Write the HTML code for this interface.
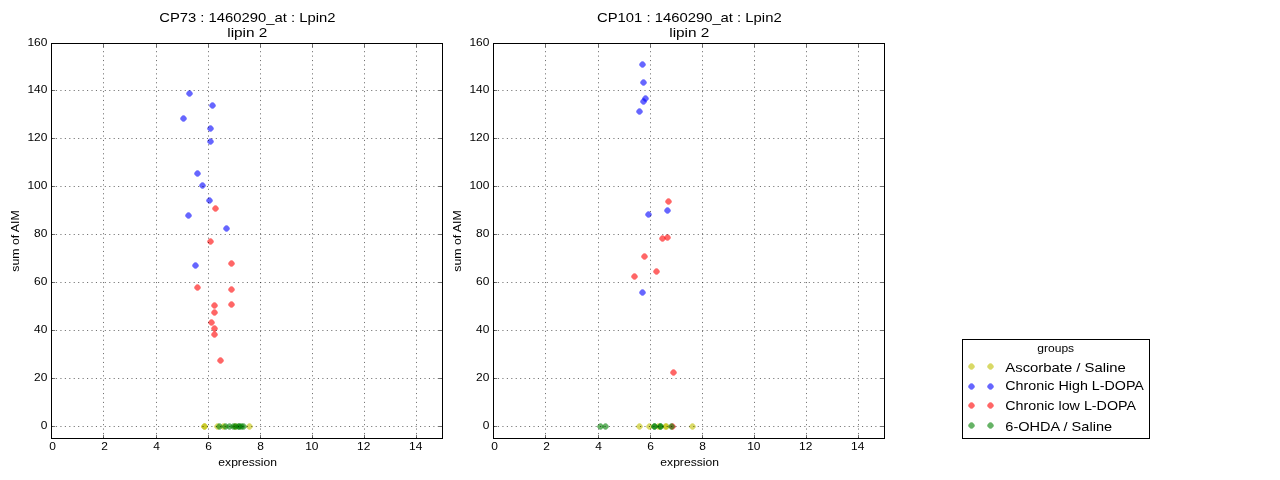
<!DOCTYPE html>
<html lang="en">
<head>
<meta charset="utf-8">
<title>CP73 / CP101 : 1460290_at : Lpin2</title>
<style>
html,body{margin:0;padding:0;background:#fff;}
body{width:1280px;height:480px;overflow:hidden;font-family:"Liberation Sans",sans-serif;}
svg{display:block;will-change:transform;}
svg text{font-family:"Liberation Sans",sans-serif;fill:#000;}
</style>
</head>
<body>
<svg width="1280" height="480" viewBox="0 0 1280 480">
<rect x="0" y="0" width="1280" height="480" fill="#fff"/>
<g>
<g fill="#bfbf00" fill-opacity="0.6"><path transform="translate(204.5 426.5)" d="M3.35 0Q3.25 1.3 2.1 2.1Q1.3 3.25 0 3.35Q-1.3 3.25 -2.1 2.1Q-3.25 1.3 -3.35 0Q-3.25 -1.3 -2.1 -2.1Q-1.3 -3.25 0 -3.35Q1.3 -3.25 2.1 -2.1Q3.25 -1.3 3.35 0Z"/><path transform="translate(204.5 426.5)" d="M3.35 0Q3.25 1.3 2.1 2.1Q1.3 3.25 0 3.35Q-1.3 3.25 -2.1 2.1Q-3.25 1.3 -3.35 0Q-3.25 -1.3 -2.1 -2.1Q-1.3 -3.25 0 -3.35Q1.3 -3.25 2.1 -2.1Q3.25 -1.3 3.35 0Z"/><path transform="translate(217.5 426.5)" d="M3.35 0Q3.25 1.3 2.1 2.1Q1.3 3.25 0 3.35Q-1.3 3.25 -2.1 2.1Q-3.25 1.3 -3.35 0Q-3.25 -1.3 -2.1 -2.1Q-1.3 -3.25 0 -3.35Q1.3 -3.25 2.1 -2.1Q3.25 -1.3 3.35 0Z"/><path transform="translate(223.5 426.5)" d="M3.35 0Q3.25 1.3 2.1 2.1Q1.3 3.25 0 3.35Q-1.3 3.25 -2.1 2.1Q-3.25 1.3 -3.35 0Q-3.25 -1.3 -2.1 -2.1Q-1.3 -3.25 0 -3.35Q1.3 -3.25 2.1 -2.1Q3.25 -1.3 3.35 0Z"/><path transform="translate(235.5 426.5)" d="M3.35 0Q3.25 1.3 2.1 2.1Q1.3 3.25 0 3.35Q-1.3 3.25 -2.1 2.1Q-3.25 1.3 -3.35 0Q-3.25 -1.3 -2.1 -2.1Q-1.3 -3.25 0 -3.35Q1.3 -3.25 2.1 -2.1Q3.25 -1.3 3.35 0Z"/><path transform="translate(249.5 426.5)" d="M3.35 0Q3.25 1.3 2.1 2.1Q1.3 3.25 0 3.35Q-1.3 3.25 -2.1 2.1Q-3.25 1.3 -3.35 0Q-3.25 -1.3 -2.1 -2.1Q-1.3 -3.25 0 -3.35Q1.3 -3.25 2.1 -2.1Q3.25 -1.3 3.35 0Z"/></g>
<g fill="#0000ff" fill-opacity="0.6"><path transform="translate(189.5 93.5)" d="M3.35 0Q3.25 1.3 2.1 2.1Q1.3 3.25 0 3.35Q-1.3 3.25 -2.1 2.1Q-3.25 1.3 -3.35 0Q-3.25 -1.3 -2.1 -2.1Q-1.3 -3.25 0 -3.35Q1.3 -3.25 2.1 -2.1Q3.25 -1.3 3.35 0Z"/><path transform="translate(212.5 105.5)" d="M3.35 0Q3.25 1.3 2.1 2.1Q1.3 3.25 0 3.35Q-1.3 3.25 -2.1 2.1Q-3.25 1.3 -3.35 0Q-3.25 -1.3 -2.1 -2.1Q-1.3 -3.25 0 -3.35Q1.3 -3.25 2.1 -2.1Q3.25 -1.3 3.35 0Z"/><path transform="translate(183.5 118.5)" d="M3.35 0Q3.25 1.3 2.1 2.1Q1.3 3.25 0 3.35Q-1.3 3.25 -2.1 2.1Q-3.25 1.3 -3.35 0Q-3.25 -1.3 -2.1 -2.1Q-1.3 -3.25 0 -3.35Q1.3 -3.25 2.1 -2.1Q3.25 -1.3 3.35 0Z"/><path transform="translate(210.5 128.5)" d="M3.35 0Q3.25 1.3 2.1 2.1Q1.3 3.25 0 3.35Q-1.3 3.25 -2.1 2.1Q-3.25 1.3 -3.35 0Q-3.25 -1.3 -2.1 -2.1Q-1.3 -3.25 0 -3.35Q1.3 -3.25 2.1 -2.1Q3.25 -1.3 3.35 0Z"/><path transform="translate(210.5 141.5)" d="M3.35 0Q3.25 1.3 2.1 2.1Q1.3 3.25 0 3.35Q-1.3 3.25 -2.1 2.1Q-3.25 1.3 -3.35 0Q-3.25 -1.3 -2.1 -2.1Q-1.3 -3.25 0 -3.35Q1.3 -3.25 2.1 -2.1Q3.25 -1.3 3.35 0Z"/><path transform="translate(197.5 173.5)" d="M3.35 0Q3.25 1.3 2.1 2.1Q1.3 3.25 0 3.35Q-1.3 3.25 -2.1 2.1Q-3.25 1.3 -3.35 0Q-3.25 -1.3 -2.1 -2.1Q-1.3 -3.25 0 -3.35Q1.3 -3.25 2.1 -2.1Q3.25 -1.3 3.35 0Z"/><path transform="translate(202.5 185.5)" d="M3.35 0Q3.25 1.3 2.1 2.1Q1.3 3.25 0 3.35Q-1.3 3.25 -2.1 2.1Q-3.25 1.3 -3.35 0Q-3.25 -1.3 -2.1 -2.1Q-1.3 -3.25 0 -3.35Q1.3 -3.25 2.1 -2.1Q3.25 -1.3 3.35 0Z"/><path transform="translate(209.5 200.5)" d="M3.35 0Q3.25 1.3 2.1 2.1Q1.3 3.25 0 3.35Q-1.3 3.25 -2.1 2.1Q-3.25 1.3 -3.35 0Q-3.25 -1.3 -2.1 -2.1Q-1.3 -3.25 0 -3.35Q1.3 -3.25 2.1 -2.1Q3.25 -1.3 3.35 0Z"/><path transform="translate(188.5 215.5)" d="M3.35 0Q3.25 1.3 2.1 2.1Q1.3 3.25 0 3.35Q-1.3 3.25 -2.1 2.1Q-3.25 1.3 -3.35 0Q-3.25 -1.3 -2.1 -2.1Q-1.3 -3.25 0 -3.35Q1.3 -3.25 2.1 -2.1Q3.25 -1.3 3.35 0Z"/><path transform="translate(226.5 228.5)" d="M3.35 0Q3.25 1.3 2.1 2.1Q1.3 3.25 0 3.35Q-1.3 3.25 -2.1 2.1Q-3.25 1.3 -3.35 0Q-3.25 -1.3 -2.1 -2.1Q-1.3 -3.25 0 -3.35Q1.3 -3.25 2.1 -2.1Q3.25 -1.3 3.35 0Z"/><path transform="translate(195.5 265.5)" d="M3.35 0Q3.25 1.3 2.1 2.1Q1.3 3.25 0 3.35Q-1.3 3.25 -2.1 2.1Q-3.25 1.3 -3.35 0Q-3.25 -1.3 -2.1 -2.1Q-1.3 -3.25 0 -3.35Q1.3 -3.25 2.1 -2.1Q3.25 -1.3 3.35 0Z"/></g>
<g fill="#ff0000" fill-opacity="0.6"><path transform="translate(215.5 208.5)" d="M3.35 0Q3.25 1.3 2.1 2.1Q1.3 3.25 0 3.35Q-1.3 3.25 -2.1 2.1Q-3.25 1.3 -3.35 0Q-3.25 -1.3 -2.1 -2.1Q-1.3 -3.25 0 -3.35Q1.3 -3.25 2.1 -2.1Q3.25 -1.3 3.35 0Z"/><path transform="translate(210.5 241.5)" d="M3.35 0Q3.25 1.3 2.1 2.1Q1.3 3.25 0 3.35Q-1.3 3.25 -2.1 2.1Q-3.25 1.3 -3.35 0Q-3.25 -1.3 -2.1 -2.1Q-1.3 -3.25 0 -3.35Q1.3 -3.25 2.1 -2.1Q3.25 -1.3 3.35 0Z"/><path transform="translate(231.5 263.5)" d="M3.35 0Q3.25 1.3 2.1 2.1Q1.3 3.25 0 3.35Q-1.3 3.25 -2.1 2.1Q-3.25 1.3 -3.35 0Q-3.25 -1.3 -2.1 -2.1Q-1.3 -3.25 0 -3.35Q1.3 -3.25 2.1 -2.1Q3.25 -1.3 3.35 0Z"/><path transform="translate(197.5 287.5)" d="M3.35 0Q3.25 1.3 2.1 2.1Q1.3 3.25 0 3.35Q-1.3 3.25 -2.1 2.1Q-3.25 1.3 -3.35 0Q-3.25 -1.3 -2.1 -2.1Q-1.3 -3.25 0 -3.35Q1.3 -3.25 2.1 -2.1Q3.25 -1.3 3.35 0Z"/><path transform="translate(231.5 289.5)" d="M3.35 0Q3.25 1.3 2.1 2.1Q1.3 3.25 0 3.35Q-1.3 3.25 -2.1 2.1Q-3.25 1.3 -3.35 0Q-3.25 -1.3 -2.1 -2.1Q-1.3 -3.25 0 -3.35Q1.3 -3.25 2.1 -2.1Q3.25 -1.3 3.35 0Z"/><path transform="translate(231.5 304.5)" d="M3.35 0Q3.25 1.3 2.1 2.1Q1.3 3.25 0 3.35Q-1.3 3.25 -2.1 2.1Q-3.25 1.3 -3.35 0Q-3.25 -1.3 -2.1 -2.1Q-1.3 -3.25 0 -3.35Q1.3 -3.25 2.1 -2.1Q3.25 -1.3 3.35 0Z"/><path transform="translate(214.5 305.5)" d="M3.35 0Q3.25 1.3 2.1 2.1Q1.3 3.25 0 3.35Q-1.3 3.25 -2.1 2.1Q-3.25 1.3 -3.35 0Q-3.25 -1.3 -2.1 -2.1Q-1.3 -3.25 0 -3.35Q1.3 -3.25 2.1 -2.1Q3.25 -1.3 3.35 0Z"/><path transform="translate(214.5 312.5)" d="M3.35 0Q3.25 1.3 2.1 2.1Q1.3 3.25 0 3.35Q-1.3 3.25 -2.1 2.1Q-3.25 1.3 -3.35 0Q-3.25 -1.3 -2.1 -2.1Q-1.3 -3.25 0 -3.35Q1.3 -3.25 2.1 -2.1Q3.25 -1.3 3.35 0Z"/><path transform="translate(211.5 322.5)" d="M3.35 0Q3.25 1.3 2.1 2.1Q1.3 3.25 0 3.35Q-1.3 3.25 -2.1 2.1Q-3.25 1.3 -3.35 0Q-3.25 -1.3 -2.1 -2.1Q-1.3 -3.25 0 -3.35Q1.3 -3.25 2.1 -2.1Q3.25 -1.3 3.35 0Z"/><path transform="translate(214.5 328.5)" d="M3.35 0Q3.25 1.3 2.1 2.1Q1.3 3.25 0 3.35Q-1.3 3.25 -2.1 2.1Q-3.25 1.3 -3.35 0Q-3.25 -1.3 -2.1 -2.1Q-1.3 -3.25 0 -3.35Q1.3 -3.25 2.1 -2.1Q3.25 -1.3 3.35 0Z"/><path transform="translate(214.5 334.5)" d="M3.35 0Q3.25 1.3 2.1 2.1Q1.3 3.25 0 3.35Q-1.3 3.25 -2.1 2.1Q-3.25 1.3 -3.35 0Q-3.25 -1.3 -2.1 -2.1Q-1.3 -3.25 0 -3.35Q1.3 -3.25 2.1 -2.1Q3.25 -1.3 3.35 0Z"/><path transform="translate(220.5 360.5)" d="M3.35 0Q3.25 1.3 2.1 2.1Q1.3 3.25 0 3.35Q-1.3 3.25 -2.1 2.1Q-3.25 1.3 -3.35 0Q-3.25 -1.3 -2.1 -2.1Q-1.3 -3.25 0 -3.35Q1.3 -3.25 2.1 -2.1Q3.25 -1.3 3.35 0Z"/></g>
<g fill="#008000" fill-opacity="0.6"><path transform="translate(219.5 426.5)" d="M3.35 0Q3.25 1.3 2.1 2.1Q1.3 3.25 0 3.35Q-1.3 3.25 -2.1 2.1Q-3.25 1.3 -3.35 0Q-3.25 -1.3 -2.1 -2.1Q-1.3 -3.25 0 -3.35Q1.3 -3.25 2.1 -2.1Q3.25 -1.3 3.35 0Z"/><path transform="translate(225.5 426.5)" d="M3.35 0Q3.25 1.3 2.1 2.1Q1.3 3.25 0 3.35Q-1.3 3.25 -2.1 2.1Q-3.25 1.3 -3.35 0Q-3.25 -1.3 -2.1 -2.1Q-1.3 -3.25 0 -3.35Q1.3 -3.25 2.1 -2.1Q3.25 -1.3 3.35 0Z"/><path transform="translate(229.5 426.5)" d="M3.35 0Q3.25 1.3 2.1 2.1Q1.3 3.25 0 3.35Q-1.3 3.25 -2.1 2.1Q-3.25 1.3 -3.35 0Q-3.25 -1.3 -2.1 -2.1Q-1.3 -3.25 0 -3.35Q1.3 -3.25 2.1 -2.1Q3.25 -1.3 3.35 0Z"/><path transform="translate(233.5 426.5)" d="M3.35 0Q3.25 1.3 2.1 2.1Q1.3 3.25 0 3.35Q-1.3 3.25 -2.1 2.1Q-3.25 1.3 -3.35 0Q-3.25 -1.3 -2.1 -2.1Q-1.3 -3.25 0 -3.35Q1.3 -3.25 2.1 -2.1Q3.25 -1.3 3.35 0Z"/><path transform="translate(235.5 426.5)" d="M3.35 0Q3.25 1.3 2.1 2.1Q1.3 3.25 0 3.35Q-1.3 3.25 -2.1 2.1Q-3.25 1.3 -3.35 0Q-3.25 -1.3 -2.1 -2.1Q-1.3 -3.25 0 -3.35Q1.3 -3.25 2.1 -2.1Q3.25 -1.3 3.35 0Z"/><path transform="translate(238.5 426.5)" d="M3.35 0Q3.25 1.3 2.1 2.1Q1.3 3.25 0 3.35Q-1.3 3.25 -2.1 2.1Q-3.25 1.3 -3.35 0Q-3.25 -1.3 -2.1 -2.1Q-1.3 -3.25 0 -3.35Q1.3 -3.25 2.1 -2.1Q3.25 -1.3 3.35 0Z"/><path transform="translate(239.5 426.5)" d="M3.35 0Q3.25 1.3 2.1 2.1Q1.3 3.25 0 3.35Q-1.3 3.25 -2.1 2.1Q-3.25 1.3 -3.35 0Q-3.25 -1.3 -2.1 -2.1Q-1.3 -3.25 0 -3.35Q1.3 -3.25 2.1 -2.1Q3.25 -1.3 3.35 0Z"/><path transform="translate(241.5 426.5)" d="M3.35 0Q3.25 1.3 2.1 2.1Q1.3 3.25 0 3.35Q-1.3 3.25 -2.1 2.1Q-3.25 1.3 -3.35 0Q-3.25 -1.3 -2.1 -2.1Q-1.3 -3.25 0 -3.35Q1.3 -3.25 2.1 -2.1Q3.25 -1.3 3.35 0Z"/><path transform="translate(243.5 426.5)" d="M3.35 0Q3.25 1.3 2.1 2.1Q1.3 3.25 0 3.35Q-1.3 3.25 -2.1 2.1Q-3.25 1.3 -3.35 0Q-3.25 -1.3 -2.1 -2.1Q-1.3 -3.25 0 -3.35Q1.3 -3.25 2.1 -2.1Q3.25 -1.3 3.35 0Z"/></g>
<path d="M103.5 438.5V43.5M156.5 438.5V43.5M208.5 438.5V43.5M260.5 438.5V43.5M312.5 438.5V43.5M364.5 438.5V43.5M416.5 438.5V43.5M51.5 426.5H442.5M51.5 378.5H442.5M51.5 330.5H442.5M51.5 282.5H442.5M51.5 234.5H442.5M51.5 186.5H442.5M51.5 138.5H442.5M51.5 90.5H442.5" fill="none" stroke="#000" stroke-width="0.56" stroke-dasharray="1.11 3.33"/>
<path d="M51.5 438.5v-3.7M51.5 43.5v3.7M103.5 438.5v-3.7M103.5 43.5v3.7M156.5 438.5v-3.7M156.5 43.5v3.7M208.5 438.5v-3.7M208.5 43.5v3.7M260.5 438.5v-3.7M260.5 43.5v3.7M312.5 438.5v-3.7M312.5 43.5v3.7M364.5 438.5v-3.7M364.5 43.5v3.7M416.5 438.5v-3.7M416.5 43.5v3.7M51.5 426.5h3.7M442.5 426.5h-3.7M51.5 378.5h3.7M442.5 378.5h-3.7M51.5 330.5h3.7M442.5 330.5h-3.7M51.5 282.5h3.7M442.5 282.5h-3.7M51.5 234.5h3.7M442.5 234.5h-3.7M51.5 186.5h3.7M442.5 186.5h-3.7M51.5 138.5h3.7M442.5 138.5h-3.7M51.5 90.5h3.7M442.5 90.5h-3.7M51.5 43.5h3.7M442.5 43.5h-3.7" fill="none" stroke="#000" stroke-width="0.56"/>
<rect x="51.5" y="43.5" width="391.0" height="395.0" fill="none" stroke="#000" stroke-width="1"/>
<text x="49.17" y="450.00" font-size="11.35" textLength="6.65" lengthAdjust="spacingAndGlyphs">0</text>
<text x="101.17" y="450.00" font-size="11.35" textLength="6.65" lengthAdjust="spacingAndGlyphs">2</text>
<text x="153.28" y="450.00" font-size="11.35" textLength="6.65" lengthAdjust="spacingAndGlyphs">4</text>
<text x="205.18" y="450.00" font-size="11.35" textLength="6.65" lengthAdjust="spacingAndGlyphs">6</text>
<text x="257.18" y="450.00" font-size="11.35" textLength="6.65" lengthAdjust="spacingAndGlyphs">8</text>
<text x="305.15" y="450.00" font-size="11.35" textLength="13.30" lengthAdjust="spacingAndGlyphs">10</text>
<text x="357.05" y="450.00" font-size="11.35" textLength="13.30" lengthAdjust="spacingAndGlyphs">12</text>
<text x="409.05" y="450.00" font-size="11.35" textLength="13.30" lengthAdjust="spacingAndGlyphs">14</text>
<text x="40.75" y="429.00" font-size="11.35" textLength="6.65" lengthAdjust="spacingAndGlyphs">0</text>
<text x="34.10" y="381.00" font-size="11.35" textLength="13.30" lengthAdjust="spacingAndGlyphs">20</text>
<text x="34.10" y="333.00" font-size="11.35" textLength="13.30" lengthAdjust="spacingAndGlyphs">40</text>
<text x="34.10" y="285.00" font-size="11.35" textLength="13.30" lengthAdjust="spacingAndGlyphs">60</text>
<text x="34.10" y="237.00" font-size="11.35" textLength="13.30" lengthAdjust="spacingAndGlyphs">80</text>
<text x="27.45" y="189.00" font-size="11.35" textLength="19.95" lengthAdjust="spacingAndGlyphs">100</text>
<text x="27.45" y="141.00" font-size="11.35" textLength="19.95" lengthAdjust="spacingAndGlyphs">120</text>
<text x="27.45" y="93.00" font-size="11.35" textLength="19.95" lengthAdjust="spacingAndGlyphs">140</text>
<text x="27.45" y="46.00" font-size="11.35" textLength="19.95" lengthAdjust="spacingAndGlyphs">160</text>
<text x="218.33" y="466.00" font-size="11.50" textLength="58.63" lengthAdjust="spacingAndGlyphs">expression</text>
<text x="19.30" y="271.65" font-size="11.50" textLength="61.29" lengthAdjust="spacingAndGlyphs" transform="rotate(-90 19.30 271.65)">sum of AIM</text>
<text x="159.19" y="22.00" font-size="13.40" textLength="176.23" lengthAdjust="spacingAndGlyphs">CP73 : 1460290_at : Lpin2</text>
<text x="227.23" y="37.00" font-size="13.40" textLength="40.15" lengthAdjust="spacingAndGlyphs">lipin 2</text>
</g>
<g>
<g fill="#bfbf00" fill-opacity="0.6"><path transform="translate(639.5 426.5)" d="M3.35 0Q3.25 1.3 2.1 2.1Q1.3 3.25 0 3.35Q-1.3 3.25 -2.1 2.1Q-3.25 1.3 -3.35 0Q-3.25 -1.3 -2.1 -2.1Q-1.3 -3.25 0 -3.35Q1.3 -3.25 2.1 -2.1Q3.25 -1.3 3.35 0Z"/><path transform="translate(649.5 426.5)" d="M3.35 0Q3.25 1.3 2.1 2.1Q1.3 3.25 0 3.35Q-1.3 3.25 -2.1 2.1Q-3.25 1.3 -3.35 0Q-3.25 -1.3 -2.1 -2.1Q-1.3 -3.25 0 -3.35Q1.3 -3.25 2.1 -2.1Q3.25 -1.3 3.35 0Z"/><path transform="translate(658.5 426.5)" d="M3.35 0Q3.25 1.3 2.1 2.1Q1.3 3.25 0 3.35Q-1.3 3.25 -2.1 2.1Q-3.25 1.3 -3.35 0Q-3.25 -1.3 -2.1 -2.1Q-1.3 -3.25 0 -3.35Q1.3 -3.25 2.1 -2.1Q3.25 -1.3 3.35 0Z"/><path transform="translate(665.5 426.5)" d="M3.35 0Q3.25 1.3 2.1 2.1Q1.3 3.25 0 3.35Q-1.3 3.25 -2.1 2.1Q-3.25 1.3 -3.35 0Q-3.25 -1.3 -2.1 -2.1Q-1.3 -3.25 0 -3.35Q1.3 -3.25 2.1 -2.1Q3.25 -1.3 3.35 0Z"/><path transform="translate(666.5 426.5)" d="M3.35 0Q3.25 1.3 2.1 2.1Q1.3 3.25 0 3.35Q-1.3 3.25 -2.1 2.1Q-3.25 1.3 -3.35 0Q-3.25 -1.3 -2.1 -2.1Q-1.3 -3.25 0 -3.35Q1.3 -3.25 2.1 -2.1Q3.25 -1.3 3.35 0Z"/><path transform="translate(692.5 426.5)" d="M3.35 0Q3.25 1.3 2.1 2.1Q1.3 3.25 0 3.35Q-1.3 3.25 -2.1 2.1Q-3.25 1.3 -3.35 0Q-3.25 -1.3 -2.1 -2.1Q-1.3 -3.25 0 -3.35Q1.3 -3.25 2.1 -2.1Q3.25 -1.3 3.35 0Z"/></g>
<g fill="#0000ff" fill-opacity="0.6"><path transform="translate(642.5 64.5)" d="M3.35 0Q3.25 1.3 2.1 2.1Q1.3 3.25 0 3.35Q-1.3 3.25 -2.1 2.1Q-3.25 1.3 -3.35 0Q-3.25 -1.3 -2.1 -2.1Q-1.3 -3.25 0 -3.35Q1.3 -3.25 2.1 -2.1Q3.25 -1.3 3.35 0Z"/><path transform="translate(643.5 82.5)" d="M3.35 0Q3.25 1.3 2.1 2.1Q1.3 3.25 0 3.35Q-1.3 3.25 -2.1 2.1Q-3.25 1.3 -3.35 0Q-3.25 -1.3 -2.1 -2.1Q-1.3 -3.25 0 -3.35Q1.3 -3.25 2.1 -2.1Q3.25 -1.3 3.35 0Z"/><path transform="translate(645.5 98.5)" d="M3.35 0Q3.25 1.3 2.1 2.1Q1.3 3.25 0 3.35Q-1.3 3.25 -2.1 2.1Q-3.25 1.3 -3.35 0Q-3.25 -1.3 -2.1 -2.1Q-1.3 -3.25 0 -3.35Q1.3 -3.25 2.1 -2.1Q3.25 -1.3 3.35 0Z"/><path transform="translate(643.5 101.5)" d="M3.35 0Q3.25 1.3 2.1 2.1Q1.3 3.25 0 3.35Q-1.3 3.25 -2.1 2.1Q-3.25 1.3 -3.35 0Q-3.25 -1.3 -2.1 -2.1Q-1.3 -3.25 0 -3.35Q1.3 -3.25 2.1 -2.1Q3.25 -1.3 3.35 0Z"/><path transform="translate(639.5 111.5)" d="M3.35 0Q3.25 1.3 2.1 2.1Q1.3 3.25 0 3.35Q-1.3 3.25 -2.1 2.1Q-3.25 1.3 -3.35 0Q-3.25 -1.3 -2.1 -2.1Q-1.3 -3.25 0 -3.35Q1.3 -3.25 2.1 -2.1Q3.25 -1.3 3.35 0Z"/><path transform="translate(667.5 210.5)" d="M3.35 0Q3.25 1.3 2.1 2.1Q1.3 3.25 0 3.35Q-1.3 3.25 -2.1 2.1Q-3.25 1.3 -3.35 0Q-3.25 -1.3 -2.1 -2.1Q-1.3 -3.25 0 -3.35Q1.3 -3.25 2.1 -2.1Q3.25 -1.3 3.35 0Z"/><path transform="translate(648.5 214.5)" d="M3.35 0Q3.25 1.3 2.1 2.1Q1.3 3.25 0 3.35Q-1.3 3.25 -2.1 2.1Q-3.25 1.3 -3.35 0Q-3.25 -1.3 -2.1 -2.1Q-1.3 -3.25 0 -3.35Q1.3 -3.25 2.1 -2.1Q3.25 -1.3 3.35 0Z"/><path transform="translate(642.5 292.5)" d="M3.35 0Q3.25 1.3 2.1 2.1Q1.3 3.25 0 3.35Q-1.3 3.25 -2.1 2.1Q-3.25 1.3 -3.35 0Q-3.25 -1.3 -2.1 -2.1Q-1.3 -3.25 0 -3.35Q1.3 -3.25 2.1 -2.1Q3.25 -1.3 3.35 0Z"/></g>
<g fill="#ff0000" fill-opacity="0.6"><path transform="translate(668.5 201.5)" d="M3.35 0Q3.25 1.3 2.1 2.1Q1.3 3.25 0 3.35Q-1.3 3.25 -2.1 2.1Q-3.25 1.3 -3.35 0Q-3.25 -1.3 -2.1 -2.1Q-1.3 -3.25 0 -3.35Q1.3 -3.25 2.1 -2.1Q3.25 -1.3 3.35 0Z"/><path transform="translate(662.5 238.5)" d="M3.35 0Q3.25 1.3 2.1 2.1Q1.3 3.25 0 3.35Q-1.3 3.25 -2.1 2.1Q-3.25 1.3 -3.35 0Q-3.25 -1.3 -2.1 -2.1Q-1.3 -3.25 0 -3.35Q1.3 -3.25 2.1 -2.1Q3.25 -1.3 3.35 0Z"/><path transform="translate(667.5 237.5)" d="M3.35 0Q3.25 1.3 2.1 2.1Q1.3 3.25 0 3.35Q-1.3 3.25 -2.1 2.1Q-3.25 1.3 -3.35 0Q-3.25 -1.3 -2.1 -2.1Q-1.3 -3.25 0 -3.35Q1.3 -3.25 2.1 -2.1Q3.25 -1.3 3.35 0Z"/><path transform="translate(644.5 256.5)" d="M3.35 0Q3.25 1.3 2.1 2.1Q1.3 3.25 0 3.35Q-1.3 3.25 -2.1 2.1Q-3.25 1.3 -3.35 0Q-3.25 -1.3 -2.1 -2.1Q-1.3 -3.25 0 -3.35Q1.3 -3.25 2.1 -2.1Q3.25 -1.3 3.35 0Z"/><path transform="translate(656.5 271.5)" d="M3.35 0Q3.25 1.3 2.1 2.1Q1.3 3.25 0 3.35Q-1.3 3.25 -2.1 2.1Q-3.25 1.3 -3.35 0Q-3.25 -1.3 -2.1 -2.1Q-1.3 -3.25 0 -3.35Q1.3 -3.25 2.1 -2.1Q3.25 -1.3 3.35 0Z"/><path transform="translate(634.5 276.5)" d="M3.35 0Q3.25 1.3 2.1 2.1Q1.3 3.25 0 3.35Q-1.3 3.25 -2.1 2.1Q-3.25 1.3 -3.35 0Q-3.25 -1.3 -2.1 -2.1Q-1.3 -3.25 0 -3.35Q1.3 -3.25 2.1 -2.1Q3.25 -1.3 3.35 0Z"/><path transform="translate(673.5 372.5)" d="M3.35 0Q3.25 1.3 2.1 2.1Q1.3 3.25 0 3.35Q-1.3 3.25 -2.1 2.1Q-3.25 1.3 -3.35 0Q-3.25 -1.3 -2.1 -2.1Q-1.3 -3.25 0 -3.35Q1.3 -3.25 2.1 -2.1Q3.25 -1.3 3.35 0Z"/><path transform="translate(672.5 426.5)" d="M3.35 0Q3.25 1.3 2.1 2.1Q1.3 3.25 0 3.35Q-1.3 3.25 -2.1 2.1Q-3.25 1.3 -3.35 0Q-3.25 -1.3 -2.1 -2.1Q-1.3 -3.25 0 -3.35Q1.3 -3.25 2.1 -2.1Q3.25 -1.3 3.35 0Z"/></g>
<g fill="#008000" fill-opacity="0.6"><path transform="translate(600.5 426.5)" d="M3.35 0Q3.25 1.3 2.1 2.1Q1.3 3.25 0 3.35Q-1.3 3.25 -2.1 2.1Q-3.25 1.3 -3.35 0Q-3.25 -1.3 -2.1 -2.1Q-1.3 -3.25 0 -3.35Q1.3 -3.25 2.1 -2.1Q3.25 -1.3 3.35 0Z"/><path transform="translate(605.5 426.5)" d="M3.35 0Q3.25 1.3 2.1 2.1Q1.3 3.25 0 3.35Q-1.3 3.25 -2.1 2.1Q-3.25 1.3 -3.35 0Q-3.25 -1.3 -2.1 -2.1Q-1.3 -3.25 0 -3.35Q1.3 -3.25 2.1 -2.1Q3.25 -1.3 3.35 0Z"/><path transform="translate(654.5 426.5)" d="M3.35 0Q3.25 1.3 2.1 2.1Q1.3 3.25 0 3.35Q-1.3 3.25 -2.1 2.1Q-3.25 1.3 -3.35 0Q-3.25 -1.3 -2.1 -2.1Q-1.3 -3.25 0 -3.35Q1.3 -3.25 2.1 -2.1Q3.25 -1.3 3.35 0Z"/><path transform="translate(654.5 426.5)" d="M3.35 0Q3.25 1.3 2.1 2.1Q1.3 3.25 0 3.35Q-1.3 3.25 -2.1 2.1Q-3.25 1.3 -3.35 0Q-3.25 -1.3 -2.1 -2.1Q-1.3 -3.25 0 -3.35Q1.3 -3.25 2.1 -2.1Q3.25 -1.3 3.35 0Z"/><path transform="translate(660.5 426.5)" d="M3.35 0Q3.25 1.3 2.1 2.1Q1.3 3.25 0 3.35Q-1.3 3.25 -2.1 2.1Q-3.25 1.3 -3.35 0Q-3.25 -1.3 -2.1 -2.1Q-1.3 -3.25 0 -3.35Q1.3 -3.25 2.1 -2.1Q3.25 -1.3 3.35 0Z"/><path transform="translate(660.5 426.5)" d="M3.35 0Q3.25 1.3 2.1 2.1Q1.3 3.25 0 3.35Q-1.3 3.25 -2.1 2.1Q-3.25 1.3 -3.35 0Q-3.25 -1.3 -2.1 -2.1Q-1.3 -3.25 0 -3.35Q1.3 -3.25 2.1 -2.1Q3.25 -1.3 3.35 0Z"/><path transform="translate(671.5 426.5)" d="M3.35 0Q3.25 1.3 2.1 2.1Q1.3 3.25 0 3.35Q-1.3 3.25 -2.1 2.1Q-3.25 1.3 -3.35 0Q-3.25 -1.3 -2.1 -2.1Q-1.3 -3.25 0 -3.35Q1.3 -3.25 2.1 -2.1Q3.25 -1.3 3.35 0Z"/></g>
<path d="M545.5 438.5V43.5M598.5 438.5V43.5M650.5 438.5V43.5M702.5 438.5V43.5M754.5 438.5V43.5M806.5 438.5V43.5M858.5 438.5V43.5M493.5 426.5H884.5M493.5 378.5H884.5M493.5 330.5H884.5M493.5 282.5H884.5M493.5 234.5H884.5M493.5 186.5H884.5M493.5 138.5H884.5M493.5 90.5H884.5" fill="none" stroke="#000" stroke-width="0.56" stroke-dasharray="1.11 3.33"/>
<path d="M493.5 438.5v-3.7M493.5 43.5v3.7M545.5 438.5v-3.7M545.5 43.5v3.7M598.5 438.5v-3.7M598.5 43.5v3.7M650.5 438.5v-3.7M650.5 43.5v3.7M702.5 438.5v-3.7M702.5 43.5v3.7M754.5 438.5v-3.7M754.5 43.5v3.7M806.5 438.5v-3.7M806.5 43.5v3.7M858.5 438.5v-3.7M858.5 43.5v3.7M493.5 426.5h3.7M884.5 426.5h-3.7M493.5 378.5h3.7M884.5 378.5h-3.7M493.5 330.5h3.7M884.5 330.5h-3.7M493.5 282.5h3.7M884.5 282.5h-3.7M493.5 234.5h3.7M884.5 234.5h-3.7M493.5 186.5h3.7M884.5 186.5h-3.7M493.5 138.5h3.7M884.5 138.5h-3.7M493.5 90.5h3.7M884.5 90.5h-3.7M493.5 43.5h3.7M884.5 43.5h-3.7" fill="none" stroke="#000" stroke-width="0.56"/>
<rect x="493.5" y="43.5" width="391.0" height="395.0" fill="none" stroke="#000" stroke-width="1"/>
<text x="491.18" y="450.00" font-size="11.35" textLength="6.65" lengthAdjust="spacingAndGlyphs">0</text>
<text x="543.17" y="450.00" font-size="11.35" textLength="6.65" lengthAdjust="spacingAndGlyphs">2</text>
<text x="595.27" y="450.00" font-size="11.35" textLength="6.65" lengthAdjust="spacingAndGlyphs">4</text>
<text x="647.17" y="450.00" font-size="11.35" textLength="6.65" lengthAdjust="spacingAndGlyphs">6</text>
<text x="699.17" y="450.00" font-size="11.35" textLength="6.65" lengthAdjust="spacingAndGlyphs">8</text>
<text x="747.15" y="450.00" font-size="11.35" textLength="13.30" lengthAdjust="spacingAndGlyphs">10</text>
<text x="799.05" y="450.00" font-size="11.35" textLength="13.30" lengthAdjust="spacingAndGlyphs">12</text>
<text x="851.05" y="450.00" font-size="11.35" textLength="13.30" lengthAdjust="spacingAndGlyphs">14</text>
<text x="482.75" y="429.00" font-size="11.35" textLength="6.65" lengthAdjust="spacingAndGlyphs">0</text>
<text x="476.10" y="381.00" font-size="11.35" textLength="13.30" lengthAdjust="spacingAndGlyphs">20</text>
<text x="476.10" y="333.00" font-size="11.35" textLength="13.30" lengthAdjust="spacingAndGlyphs">40</text>
<text x="476.10" y="285.00" font-size="11.35" textLength="13.30" lengthAdjust="spacingAndGlyphs">60</text>
<text x="476.10" y="237.00" font-size="11.35" textLength="13.30" lengthAdjust="spacingAndGlyphs">80</text>
<text x="469.45" y="189.00" font-size="11.35" textLength="19.95" lengthAdjust="spacingAndGlyphs">100</text>
<text x="469.45" y="141.00" font-size="11.35" textLength="19.95" lengthAdjust="spacingAndGlyphs">120</text>
<text x="469.45" y="93.00" font-size="11.35" textLength="19.95" lengthAdjust="spacingAndGlyphs">140</text>
<text x="469.45" y="46.00" font-size="11.35" textLength="19.95" lengthAdjust="spacingAndGlyphs">160</text>
<text x="660.33" y="466.00" font-size="11.50" textLength="58.63" lengthAdjust="spacingAndGlyphs">expression</text>
<text x="461.30" y="271.65" font-size="11.50" textLength="61.29" lengthAdjust="spacingAndGlyphs" transform="rotate(-90 461.30 271.65)">sum of AIM</text>
<text x="596.95" y="22.00" font-size="13.40" textLength="184.71" lengthAdjust="spacingAndGlyphs">CP101 : 1460290_at : Lpin2</text>
<text x="669.23" y="37.00" font-size="13.40" textLength="40.15" lengthAdjust="spacingAndGlyphs">lipin 2</text>
</g>
<g>
<rect x="962.5" y="339.5" width="187" height="99" fill="#fff" stroke="#000" stroke-width="1"/>
<text x="1037.30" y="351.70" font-size="11.50" textLength="36.86" lengthAdjust="spacingAndGlyphs">groups</text>
<g fill="#bfbf00" fill-opacity="0.6"><path transform="translate(971.5 366.5)" d="M3.35 0Q3.25 1.3 2.1 2.1Q1.3 3.25 0 3.35Q-1.3 3.25 -2.1 2.1Q-3.25 1.3 -3.35 0Q-3.25 -1.3 -2.1 -2.1Q-1.3 -3.25 0 -3.35Q1.3 -3.25 2.1 -2.1Q3.25 -1.3 3.35 0Z"/><path transform="translate(990.5 366.5)" d="M3.35 0Q3.25 1.3 2.1 2.1Q1.3 3.25 0 3.35Q-1.3 3.25 -2.1 2.1Q-3.25 1.3 -3.35 0Q-3.25 -1.3 -2.1 -2.1Q-1.3 -3.25 0 -3.35Q1.3 -3.25 2.1 -2.1Q3.25 -1.3 3.35 0Z"/></g>
<text x="1005.30" y="372.00" font-size="13.40" textLength="120.57" lengthAdjust="spacingAndGlyphs">Ascorbate / Saline</text>
<g fill="#0000ff" fill-opacity="0.6"><path transform="translate(971.5 386.5)" d="M3.35 0Q3.25 1.3 2.1 2.1Q1.3 3.25 0 3.35Q-1.3 3.25 -2.1 2.1Q-3.25 1.3 -3.35 0Q-3.25 -1.3 -2.1 -2.1Q-1.3 -3.25 0 -3.35Q1.3 -3.25 2.1 -2.1Q3.25 -1.3 3.35 0Z"/><path transform="translate(990.5 386.5)" d="M3.35 0Q3.25 1.3 2.1 2.1Q1.3 3.25 0 3.35Q-1.3 3.25 -2.1 2.1Q-3.25 1.3 -3.35 0Q-3.25 -1.3 -2.1 -2.1Q-1.3 -3.25 0 -3.35Q1.3 -3.25 2.1 -2.1Q3.25 -1.3 3.35 0Z"/></g>
<text x="1005.30" y="390.00" font-size="13.40" textLength="138.59" lengthAdjust="spacingAndGlyphs">Chronic High L-DOPA</text>
<g fill="#ff0000" fill-opacity="0.6"><path transform="translate(971.5 405.5)" d="M3.35 0Q3.25 1.3 2.1 2.1Q1.3 3.25 0 3.35Q-1.3 3.25 -2.1 2.1Q-3.25 1.3 -3.35 0Q-3.25 -1.3 -2.1 -2.1Q-1.3 -3.25 0 -3.35Q1.3 -3.25 2.1 -2.1Q3.25 -1.3 3.35 0Z"/><path transform="translate(990.5 405.5)" d="M3.35 0Q3.25 1.3 2.1 2.1Q1.3 3.25 0 3.35Q-1.3 3.25 -2.1 2.1Q-3.25 1.3 -3.35 0Q-3.25 -1.3 -2.1 -2.1Q-1.3 -3.25 0 -3.35Q1.3 -3.25 2.1 -2.1Q3.25 -1.3 3.35 0Z"/></g>
<text x="1005.30" y="410.00" font-size="13.40" textLength="130.71" lengthAdjust="spacingAndGlyphs">Chronic low L-DOPA</text>
<g fill="#008000" fill-opacity="0.6"><path transform="translate(971.5 425.5)" d="M3.35 0Q3.25 1.3 2.1 2.1Q1.3 3.25 0 3.35Q-1.3 3.25 -2.1 2.1Q-3.25 1.3 -3.35 0Q-3.25 -1.3 -2.1 -2.1Q-1.3 -3.25 0 -3.35Q1.3 -3.25 2.1 -2.1Q3.25 -1.3 3.35 0Z"/><path transform="translate(990.5 425.5)" d="M3.35 0Q3.25 1.3 2.1 2.1Q1.3 3.25 0 3.35Q-1.3 3.25 -2.1 2.1Q-3.25 1.3 -3.35 0Q-3.25 -1.3 -2.1 -2.1Q-1.3 -3.25 0 -3.35Q1.3 -3.25 2.1 -2.1Q3.25 -1.3 3.35 0Z"/></g>
<text x="1005.30" y="431.00" font-size="13.40" textLength="106.80" lengthAdjust="spacingAndGlyphs">6-OHDA / Saline</text>
</g>
</svg>
</body>
</html>
